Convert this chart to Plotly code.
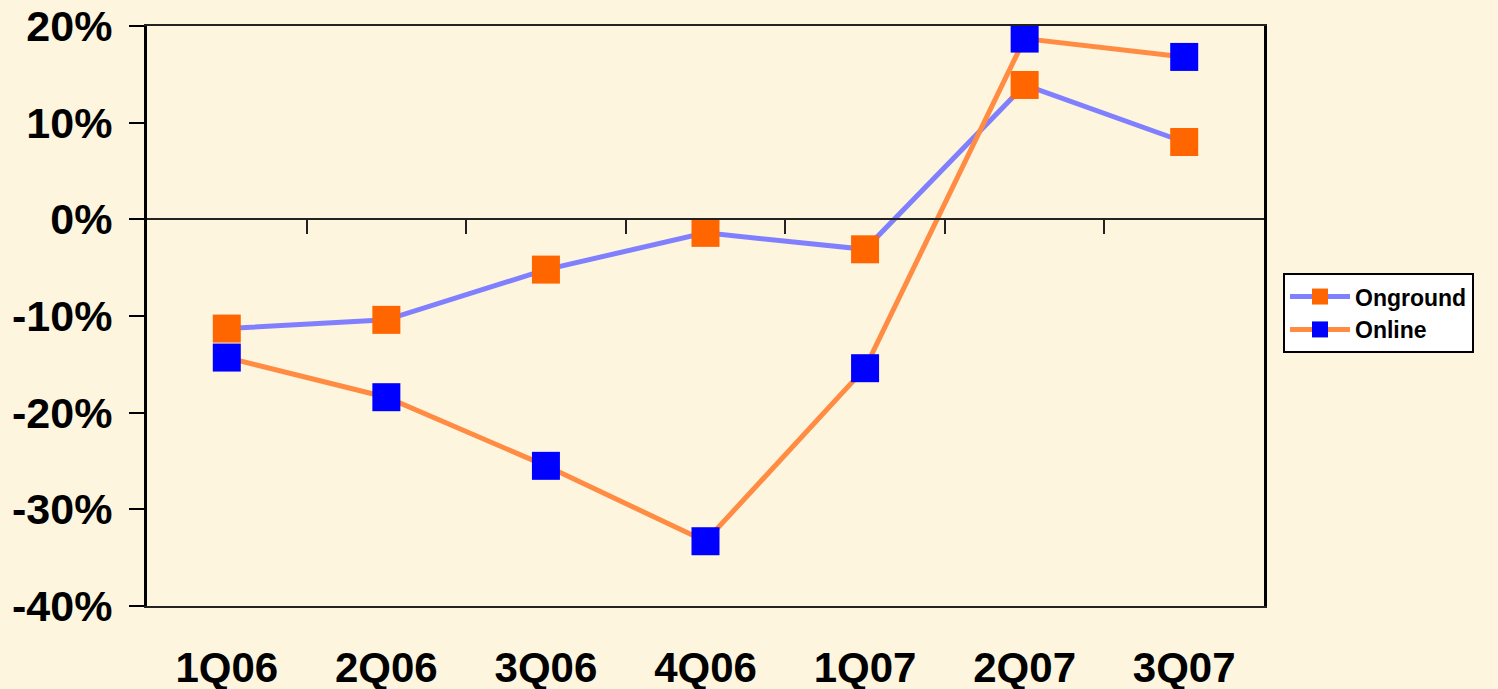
import plotly.graph_objects as go

quarters = ["1Q06", "2Q06", "3Q06", "4Q06", "1Q07", "2Q07", "3Q07"]
onground = [-11.3, -10.4, -5.2, -1.4, -3.1, 13.9, 8.0]
online = [-14.3, -18.4, -25.5, -33.3, -15.4, 18.7, 16.8]

y_ticks = [-40, -30, -20, -10, 0, 10, 20]
y_labels = [f"{v}%" for v in y_ticks]

FONT = "Liberation Sans, Arial, sans-serif"
BG = "#FDF5DD"

fig = go.Figure()
fig.add_trace(go.Scatter(
    x=quarters, y=onground, name="Onground", mode="lines+markers",
    line=dict(color="#8080FF", width=5),
    marker=dict(symbol="square", size=28, color="#FF6600"),
))
fig.add_trace(go.Scatter(
    x=quarters, y=online, name="Online", mode="lines+markers",
    line=dict(color="#FF8C42", width=5),
    marker=dict(symbol="square", size=28, color="#0000FF"),
))

n = len(quarters)
boundaries = [i + 0.5 for i in range(n - 1)]

fig.update_layout(
    width=1498, height=689,
    paper_bgcolor=BG, plot_bgcolor=BG,
    margin=dict(l=147, r=234, t=26, b=83, autoexpand=False),
    font=dict(family=FONT, color="black"),
    showlegend=True,
    legend=dict(
        x=1.017, y=0.574, xanchor="left", yanchor="top",
        bgcolor="white", bordercolor="black", borderwidth=2,
        font=dict(family=FONT, size=23, color="black", weight="bold"),
        tracegroupgap=2, itemwidth=60,
    ),
    xaxis=dict(
        type="category", categoryorder="array", categoryarray=quarters,
        range=[-0.5, n - 0.5], automargin=False,
        showgrid=False, zeroline=False,
        showline=True, mirror=True, linecolor="#222222", linewidth=2,
        ticks="", ticklabelstandoff=24, ticklabeloverflow="allow",
        tickfont=dict(family=FONT, size=42, color="black", weight="bold"),
    ),
    xaxis2=dict(
        overlaying="x", anchor="free", position=2/3,
        range=[-0.5, n - 0.5], tickmode="array", tickvals=boundaries,
        showticklabels=False, showgrid=False, zeroline=False, automargin=False,
        showline=True, linecolor="#222222", linewidth=2,
        ticks="outside", ticklen=14, tickwidth=2, tickcolor="#222222",
    ),
    yaxis=dict(
        range=[-40, 20], tickmode="array", tickvals=y_ticks, ticktext=y_labels,
        showgrid=False, zeroline=False, automargin=False,
        showline=True, mirror=True, linecolor="black", linewidth=3,
        ticks="outside", ticklen=15, tickwidth=2, tickcolor="black",
        ticklabelstandoff=8, ticklabeloverflow="allow",
        tickfont=dict(family=FONT, size=43, color="black", weight="bold"),
    ),
)

# invisible trace to activate xaxis2
fig.add_trace(go.Scatter(x=[0], y=[0], xaxis="x2", mode="markers",
                         marker=dict(opacity=0), showlegend=False, hoverinfo="skip"))

page_js = ("document.body.style.margin='0';"
           "document.body.style.padding='0';"
           "document.body.style.background='" + BG + "';"
           "document.documentElement.style.background='" + BG + "';")

fig.write_html("out.html", post_script=page_js, config={"displayModeBar": False})
